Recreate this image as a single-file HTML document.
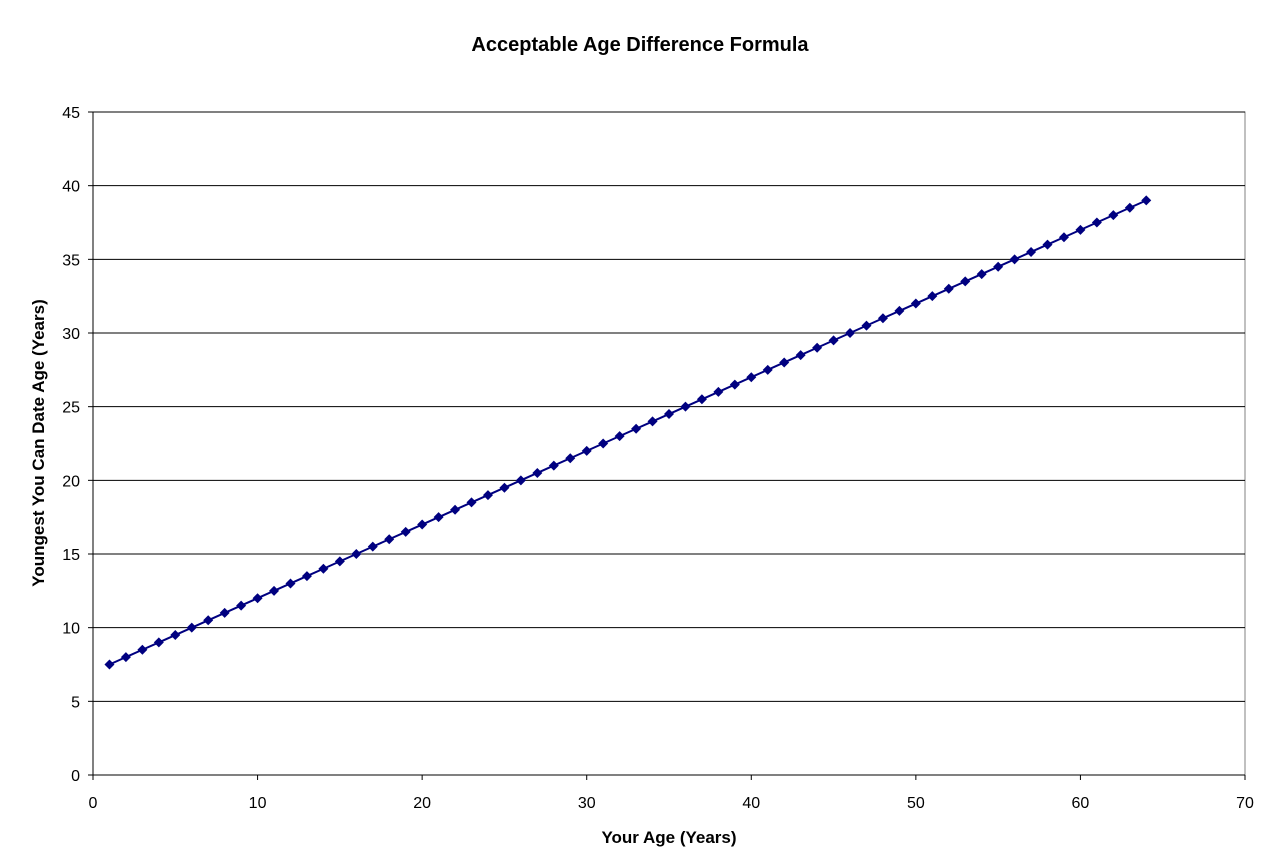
<!DOCTYPE html>
<html><head><style>body{margin:0;background:#fff}svg{display:block}text{font-family:"Liberation Sans",Arial,sans-serif}</style></head>
<body>
<svg id="s" width="1280" height="851" xmlns="http://www.w3.org/2000/svg">
<rect x="93" y="112" width="1152" height="663" fill="#fff" stroke="#808080" stroke-width="1"/>
<text x="640" y="51" text-anchor="middle" font-size="20" font-weight="bold">Acceptable Age Difference Formula</text>
<text x="669" y="843" text-anchor="middle" font-size="17" font-weight="bold">Your Age (Years)</text>
<text transform="translate(44,443) rotate(-90)" text-anchor="middle" font-size="17" font-weight="bold">Youngest You Can Date Age (Years)</text>
<g id="g"></g>
</svg>
<script>
var g=document.getElementById('g'),h='';
function X(v){return 93+v*1152/70}function Y(v){return 775-v*663/45}
for(var i=0;i<=9;i++){var y=Y(i*5);if(i>0)h+='<line x1="93" x2="1245" y1="'+y+'" y2="'+y+'" stroke="#000" stroke-width="1"/>';
h+='<line x1="88" x2="93" y1="'+y+'" y2="'+y+'" stroke="#000"/>';
h+='<text x="80" y="'+(y+6)+'" text-anchor="end" font-size="16">'+(i*5)+'</text>';}
for(var i=0;i<=7;i++){var x=X(i*10);h+='<line x1="'+x+'" x2="'+x+'" y1="775" y2="780" stroke="#000"/>';
h+='<text x="'+x+'" y="808" text-anchor="middle" font-size="16">'+(i*10)+'</text>';}
h+='<line x1="93" x2="93" y1="112" y2="775" stroke="#000"/><line x1="93" x2="1245" y1="775" y2="775" stroke="#000"/>';
var p='';for(var a=1;a<=64;a++){p+=X(a)+','+Y(a/2+7)+' ';}
h+='<polyline points="'+p+'" fill="none" stroke="#000080" stroke-width="2"/>';
for(var a=1;a<=64;a++){var x=X(a),y=Y(a/2+7);h+='<polygon points="'+x+','+(y-5)+' '+(x+5)+','+y+' '+x+','+(y+5)+' '+(x-5)+','+y+'" fill="#000080"/>';}
g.innerHTML=h;
</script>
</body></html>
